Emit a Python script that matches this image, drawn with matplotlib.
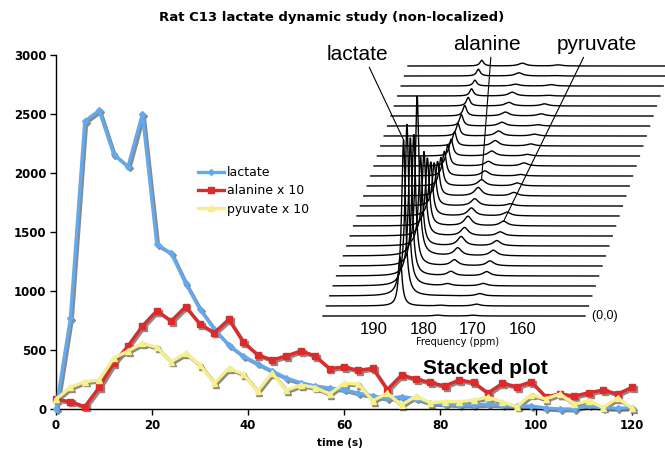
import numpy as np
import matplotlib
matplotlib.use("Agg")
import matplotlib.pyplot as plt
from matplotlib.transforms import ScaledTranslation

# ---------------- data ----------------
time_s = list(range(0, 121, 3))
lactate = [0, 768, 2440, 2530, 2160, 2055, 2500, 1395, 1320, 1065, 845, 675, 540, 449,
           384, 323, 262, 222, 195, 178, 165, 133, 112, 90, 105, 88, 50, 42, 36, 34, 40,
           34, 22, 26, 8, 0, 0, 30, 8, 6, 8]
alanine_x10 = [82, 62, 20, 184, 387, 534, 703, 833, 746, 867, 718, 647, 760, 568, 460,
               415, 450, 492, 450, 342, 356, 328, 345, 164, 288, 254, 225, 195, 246, 225,
               135, 218, 189, 231, 104, 127, 110, 138, 161, 127, 184]
pyuvate_x10 = [82, 184, 232, 246, 429, 492, 556, 523, 401, 472, 373, 218, 345, 297, 150,
               305, 158, 203, 182, 127, 218, 212, 70, 133, 34, 110, 53, 62, 62, 76, 100,
               60, 20, 122, 85, 127, 40, 70, 12, 95, 6]
series_labels = ["lactate", "alanine x 10", "pyuvate x 10"]
x_ticks = [0, 20, 40, 60, 80, 100, 120]
y_ticks = [0, 500, 1000, 1500, 2000, 2500, 3000]
ppm_ticks = [190, 180, 170, 160]
n_spectra = 26
peak_ppm = {"lactate": 185.4, "alanine": 177.2, "pyruvate": 170.0}

# ---------------- figure ----------------
W, H = 665, 454
fig = plt.figure(figsize=(W / 100, H / 100), dpi=100)
ax = fig.add_axes([56 / W, 1 - 409 / H, (632 - 56) / W, (409 - 55) / H])
ax.set_xlim(0, 120)
ax.set_ylim(0, 3000)

shadow = ax.transData + ScaledTranslation(1.3 / 72, -1.3 / 72, fig.dpi_scale_trans)
styles = [
    (lactate, "#63A9EE", "D", 3.0),
    (alanine_x10, "#DD2A2A", "s", 5.0),
    (pyuvate_x10, "#F7EF8A", "^", 5.0),
]
for (vals, col, mk, ms), lab in zip(styles, series_labels):
    ax.plot(time_s, vals, color="#8a8a8a", lw=2.4, marker=mk, ms=ms, mec="#8a8a8a",
            transform=shadow, clip_on=False, zorder=2)
    ax.plot(time_s, vals, color=col, lw=2.4, marker=mk, ms=ms, mec=col, mfc=col,
            label=lab, clip_on=False, zorder=3)

for s in ["top", "right"]:
    ax.spines[s].set_visible(False)
ax.spines["left"].set_linewidth(1.0)
ax.spines["bottom"].set_linewidth(1.0)
ax.set_xticks(x_ticks)
ax.set_yticks(y_ticks)
ax.tick_params(direction="out", length=4, width=1, labelsize=8.5, pad=3)
for lbl in ax.get_xticklabels() + ax.get_yticklabels():
    lbl.set_fontweight("bold")

fig.text(340 / W, 1 - 443 / H, "time (s)", ha="center", va="center",
         fontsize=7.5, fontweight="bold")
fig.text(332 / W, 1 - 17 / H, "Rat C13 lactate dynamic study (non-localized)",
         ha="center", va="center", fontsize=9.5, fontweight="bold")

ax.legend(loc="upper left", bbox_to_anchor=(198 / W, 1 - 166 / H),
          bbox_transform=fig.transFigure, frameon=False, fontsize=9,
          handlelength=2.1, handletextpad=0.2, labelspacing=0.42,
          borderaxespad=0, borderpad=0)

# ---------------- stacked spectra inset ----------------
px_per_ppm = 4.95
def ppm_at(px):
    return 190 - (px - 374) / px_per_ppm

ax2 = fig.add_axes([300 / W, 1 - 345 / H, 365 / W, 305 / H])
ax2.set_xlim(ppm_at(300), ppm_at(665))
ax2.set_ylim(0, 305)
ax2.axis("off")

ppm = np.linspace(ppm_at(323), ppm_at(585), 1400)
base0, dbase = 29.0, 10.0
dshift = 3.4 / px_per_ppm
k_lac, k_ala, k_pyr = 0.064, 0.011, 0.010
hw_lac, hw_ala, hw_pyr = 0.45, 0.9, 0.9

def lor(x, x0, g):
    return g * g / ((x - x0) ** 2 + g * g)

for i in reversed(range(n_spectra)):
    y = (base0 + dbase * i
         + k_lac * lactate[i] * lor(ppm, peak_ppm["lactate"], hw_lac)
         + k_ala * alanine_x10[i] * lor(ppm, peak_ppm["alanine"], hw_ala)
         + k_pyr * pyuvate_x10[i] * lor(ppm, peak_ppm["pyruvate"], hw_pyr))
    ax2.plot(ppm - dshift * i, y, color="black", lw=1.0, clip_on=False,
             solid_joinstyle="miter")

def peak_top(name, arr, k, i):
    return (peak_ppm[name] - dshift * i, base0 + dbase * i + k * arr[i])

ann_font = dict(family="Liberation Sans", fontsize=15)
ax2.annotate("lactate", xy=peak_top("lactate", lactate, k_lac, 2),
             xytext=(ppm_at(357), 345 - 55), ha="center", va="center",
             arrowprops=dict(arrowstyle="-", lw=0.8, color="black",
                             shrinkA=0, shrinkB=0, relpos=(0.67, 0.05)), **ann_font)
ax2.annotate("alanine", xy=peak_top("alanine", alanine_x10, k_ala, 13),
             xytext=(ppm_at(487), 345 - 45), ha="center", va="center",
             arrowprops=dict(arrowstyle="-", lw=0.8, color="black",
                             shrinkA=0, shrinkB=0, relpos=(0.56, 0.0)), **ann_font)
ax2.annotate("pyruvate", xy=peak_top("pyruvate", pyuvate_x10, k_pyr, 9),
             xytext=(ppm_at(597), 345 - 45), ha="center", va="center",
             arrowprops=dict(arrowstyle="-", lw=0.8, color="black",
                             shrinkA=0, shrinkB=0, relpos=(0.35, 0.0)), **ann_font)

for p in ppm_ticks:
    ax2.text(p, 345 - 330, str(p), ha="center", va="center",
             family="Liberation Sans", fontsize=12)
ax2.text(ppm_at(458), 345 - 342, "Frequency (ppm)", ha="center", va="center",
         fontsize=7)
ax2.text(ppm[-1], base0, "  (0,0)", ha="left", va="center", fontsize=9,
         family="Liberation Sans")

fig.text(485 / W, 1 - 368 / H, "Stacked plot", ha="center", va="center",
         family="Liberation Sans", fontsize=15, fontweight="bold")

fig.savefig("out.png", dpi=100)
